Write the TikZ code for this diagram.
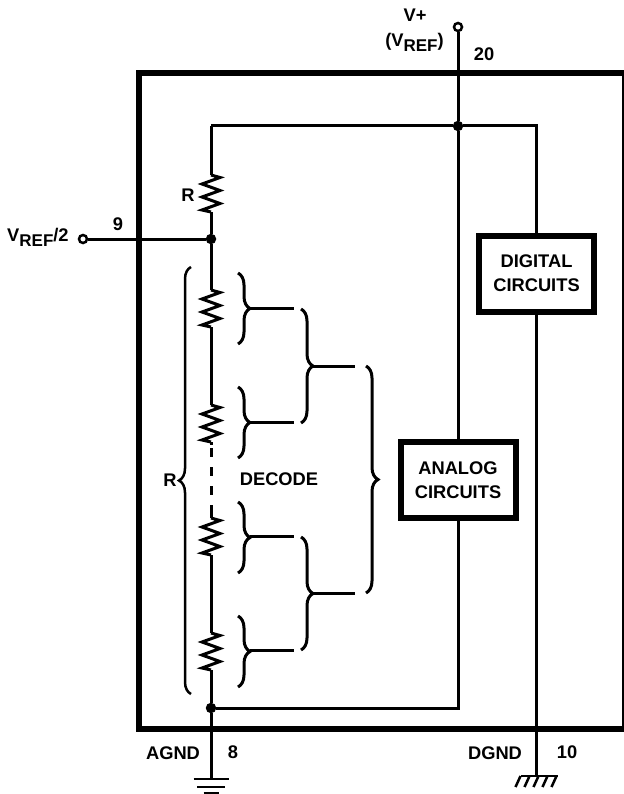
\documentclass[tikz,border=0pt]{standalone}
\usepackage{fontspec}
\setmainfont{Liberation Sans}
\usetikzlibrary{decorations.pathreplacing}
\newcommand{\vrefsub}{V\raisebox{-5pt}{\fontsize{17}{17}\selectfont REF}}
\newcommand{\zig}[2]{\draw[wire] (#1) -- ++(9,2.5) -- ++(-18,6.5) -- ++(18,6.5) -- ++(-18,6.5) -- ++(18,6.5) -- ++(-18,6.5) -- (#2);}
\begin{document}
\begin{tikzpicture}[x=1pt,y=-1pt,
  wire/.style={line width=3pt},
  bracer/.style={line width=3pt,decorate,decoration={brace,amplitude=12pt}},
  lbl/.style={font=\fontsize{18.3}{18.3}\selectfont\bfseries,inner sep=0pt},
  blockbox/.style={draw,line width=6pt,fill=white,inner sep=0pt,align=center,minimum width=115pt,minimum height=76pt,font=\fontsize{18.3}{24}\selectfont\bfseries},
  dot/.style={circle,fill=black,inner sep=0pt,minimum size=10.5pt},
  term/.style={circle,draw,fill=white,line width=2.5pt,inner sep=0pt,minimum size=8pt}]
  \useasboundingbox (0,0) rectangle (623,794);
  \node[draw,line width=6pt,minimum width=486pt,minimum height=656pt,inner sep=0pt] (chip) at (382,401) {};

  \node[term] (vp) at (458,27) {};
  \node[term] (vh) at (83,239) {};
  \node[dot] (dt) at (458,126) {};
  \node[dot] (dm) at (211,239) {};
  \node[dot] (db) at (211,708) {};
  \node[blockbox] (dig) at (536.5,273.5) {DIGITAL\\CIRCUITS};
  \node[blockbox] (ana) at (458,480) {ANALOG\\CIRCUITS};

  \coordinate (tl) at (211,126);
  \coordinate (tr) at (536.5,126);
  \coordinate (bl) at (458,708);
  \coordinate (ag) at (211,779);
  \coordinate (dg) at (536.5,776);
  \coordinate (r1t) at (211,175);
  \coordinate (r1b) at (211,212);
  \coordinate (r2t) at (211,290);
  \coordinate (r2b) at (211,327);
  \coordinate (r3t) at (211,405);
  \coordinate (r3b) at (211,442);
  \coordinate (r4t) at (211,518);
  \coordinate (r4b) at (211,555);
  \coordinate (r5t) at (211,633);
  \coordinate (r5b) at (211,670);

  \draw[wire] (vp) -- (dt);
  \draw[wire] (dt) -- (ana);
  \draw[wire] (tl) -- (dt);
  \draw[wire] (dt) -- (tr) -- (dig);
  \draw[wire] (dig) -- (dg);
  \draw[wire] (ana) -- (bl) -- (db);
  \draw[wire] (vh) -- (dm);
  \draw[wire] (tl) -- (r1t);
  \zig{r1t}{r1b}
  \draw[wire] (r1b) -- (dm);
  \draw[wire] (dm) -- (r2t);
  \zig{r2t}{r2b}
  \draw[wire] (r2b) -- (r3t);
  \zig{r3t}{r3b}
  \draw[wire,dash pattern=on 3pt off 3pt on 9pt off 10pt on 9pt off 10pt on 9pt off 10pt on 13pt off 0pt] (r3b) -- (r4t);
  \zig{r4t}{r4b}
  \draw[wire] (r4b) -- (r5t);
  \zig{r5t}{r5b}
  \draw[wire] (r5b) -- (db);
  \draw[wire] (db) -- (ag);

  \draw[line width=2.5pt] (ag) ++(-17.5,0) -- ++(35,0);
  \draw[line width=2.5pt] (ag) ++(-14,8) -- ++(28,0);
  \draw[line width=2.5pt] (ag) ++(-7.5,14) -- ++(15,0);
  \draw[line width=2.5pt] (dg) ++(-16,0) -- ++(37,0);
  \draw[line width=2.5pt] (dg) ++(-16,0) -- ++(-5,11);
  \draw[line width=2.5pt] (dg) ++(-7,0) -- ++(-5,11);
  \draw[line width=2.5pt] (dg) ++(2,0) -- ++(-5,11);
  \draw[line width=2.5pt] (dg) ++(11,0) -- ++(-5,11);
  \draw[line width=2.5pt] (dg) ++(20,0) -- ++(-5,11);

  \draw[bracer] (238,273) -- (238,344);
  \draw[bracer] (238,387) -- (238,458);
  \draw[bracer] (238,502) -- (238,573);
  \draw[bracer] (238,616) -- (238,687);
  \draw[bracer] (301,309) -- (301,423);
  \draw[bracer] (301,537) -- (301,650);
  \draw[bracer] (366,366) -- (366,593);
  \draw[bracer,line width=2.5pt] (191,694) -- (191,267);

  \coordinate (b1) at (250,308);
  \coordinate (b2) at (250,422);
  \coordinate (b3) at (250,536);
  \coordinate (b4) at (250,650);
  \coordinate (b5) at (313,366);
  \coordinate (b6) at (313,593);
  \coordinate (e1) at (294,308);
  \coordinate (e2) at (294,422);
  \coordinate (e3) at (294,536);
  \coordinate (e4) at (294,650);
  \coordinate (e5) at (355,366);
  \coordinate (e6) at (355,593);
  \draw[wire] (b1) -- (e1);
  \draw[wire] (b2) -- (e2);
  \draw[wire] (b3) -- (e3);
  \draw[wire] (b4) -- (e4);
  \draw[wire] (b5) -- (e5);
  \draw[wire] (b6) -- (e6);

  \begin{scope}[every node/.style={lbl}]
  \node (tvp) at (415,15) {V+};
  \node[anchor=base] (tvr) at (414.5,47) {(\vrefsub)};
  \node (t20) at (484,54) {20};
  \node (t9) at (118,224) {9};
  \node[anchor=base west] (tvh) at (7,241) {\vrefsub/2};
  \node (tr1) at (188,195) {R};
  \node (tr2) at (170,480) {R};
  \node (tdec) at (279,479) {DECODE};
  \node (tag) at (173,753.5) {AGND};
  \node (t8) at (233,752) {8};
  \node (tdg) at (495,753.5) {DGND};
  \node (t10) at (567,752) {10};
  \end{scope}
\end{tikzpicture}
\end{document}
